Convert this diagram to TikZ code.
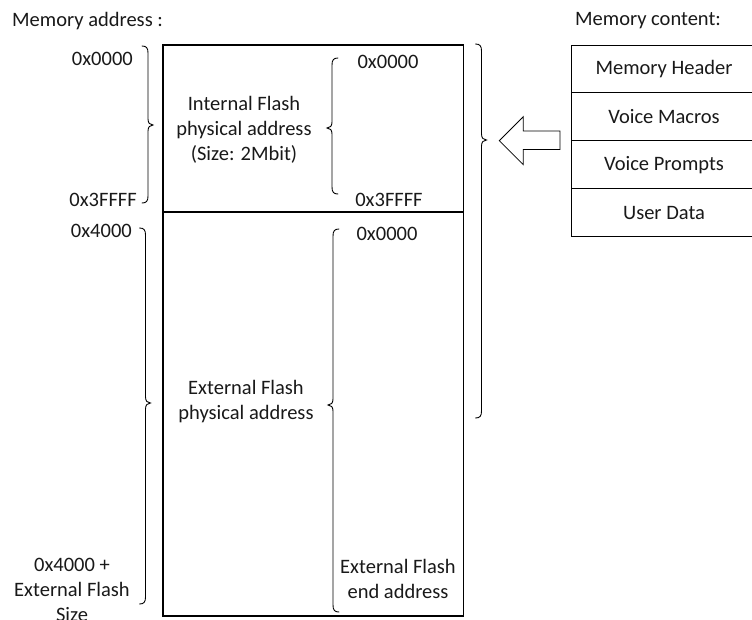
\documentclass[tikz,border=0pt]{standalone}
\usepackage{fontspec}
\setmainfont{Carlito}
\newcommand\braceRt[4]{% vertical x, top y, tip y, bottom y; tip points right
  \draw[bracestyle] ({#1-6},#2) .. controls ({#1-1.5},#2) and (#1,{#2+2}) .. (#1,{#2+7})
    -- (#1,{#3-6}) .. controls (#1,{#3-2}) and ({#1+2},#3) .. ({#1+5},#3)
    .. controls ({#1+2},#3) and (#1,{#3+2}) .. (#1,{#3+6})
    -- (#1,{#4-7}) .. controls (#1,{#4-2}) and ({#1-1.5},#4) .. ({#1-6},#4);}
\newcommand\braceLt[4]{% vertical x, top y, tip y, bottom y; tip points left
  \draw[bracestyle] ({#1+6},#2) .. controls ({#1+1.5},#2) and (#1,{#2+2}) .. (#1,{#2+7})
    -- (#1,{#3-6}) .. controls (#1,{#3-2}) and ({#1-2},#3) .. ({#1-5},#3)
    .. controls ({#1-2},#3) and (#1,{#3+2}) .. (#1,{#3+6})
    -- (#1,{#4-7}) .. controls (#1,{#4-2}) and ({#1+1.5},#4) .. ({#1+6},#4);}
\begin{document}
\begin{tikzpicture}[x=1pt,y=-1pt,
  font=\fontsize{20.5}{25}\selectfont,
  lbl/.style={inner sep=0pt, align=center, text=black!90},
  bracestyle/.style={line width=0.9pt, line cap=round},
  framestyle/.style={line width=1.4pt},
  tablestyle/.style={line width=0.9pt},
  arrowstyle/.style={line width=0.8pt, line join=miter}]
\useasboundingbox (0,0) rectangle (752,619);

% titles
\node[lbl, anchor=west] (titleL) at (12,21) {Memory address :};
\node[lbl] (titleR) at (648,21) {Memory content:};

% main memory box
\draw[framestyle] (163,45) rectangle (463.5,616);
\draw[framestyle] (163,212) -- (463.5,212);

% left address labels
\node[lbl, anchor=east] (a0) at (133,59) {0x0000};
\node[lbl, anchor=east] (a1) at (137,200) {0x3FFFF};
\node[lbl, anchor=east] (a2) at (132,231) {0x4000};
\node[lbl] (a3) at (72,590) {0x4000 +\\External Flash\\Size};

% inner labels
\node[lbl] (intl) at (244,130) {Internal Flash\\physical address\\(Size: 2Mbit)};
\node[lbl] (extl) at (246,402) {External Flash\\physical address};
\node[lbl] (i0) at (388,62) {0x0000};
\node[lbl] (i1) at (389,200) {0x3FFFF};
\node[lbl] (e0) at (387,234) {0x0000};
\node[lbl] (e1) at (398,579) {External Flash\\end address};

% braces
\braceRt{148}{46}{125}{203}
\braceRt{145.5}{228}{403}{604}
\braceRt{481.5}{44}{140}{418}
\braceLt{332}{58}{128}{194}
\braceLt{333}{229}{405}{612}

% block arrow
\draw[arrowstyle] (499.3,140.7) -- (523.3,116.7) -- (523.3,131) -- (560,131)
  -- (560,149.5) -- (523.3,149.5) -- (523.3,164.7) -- cycle;

% memory content table (open to the right edge)
\draw[tablestyle] (752,45) -- (571.7,45) -- (571.7,236) -- (752,236);
\draw[tablestyle] (571.7,92.7) -- (752,92.7);
\draw[tablestyle] (571.7,140.7) -- (752,140.7);
\draw[tablestyle] (571.7,188.7) -- (752,188.7);
\node[lbl] (c1) at (664,69) {Memory Header};
\node[lbl] (c2) at (664,117) {Voice Macros};
\node[lbl] (c3) at (664,165) {Voice Prompts};
\node[lbl] (c4) at (664,213) {User Data};
\end{tikzpicture}
\end{document}
